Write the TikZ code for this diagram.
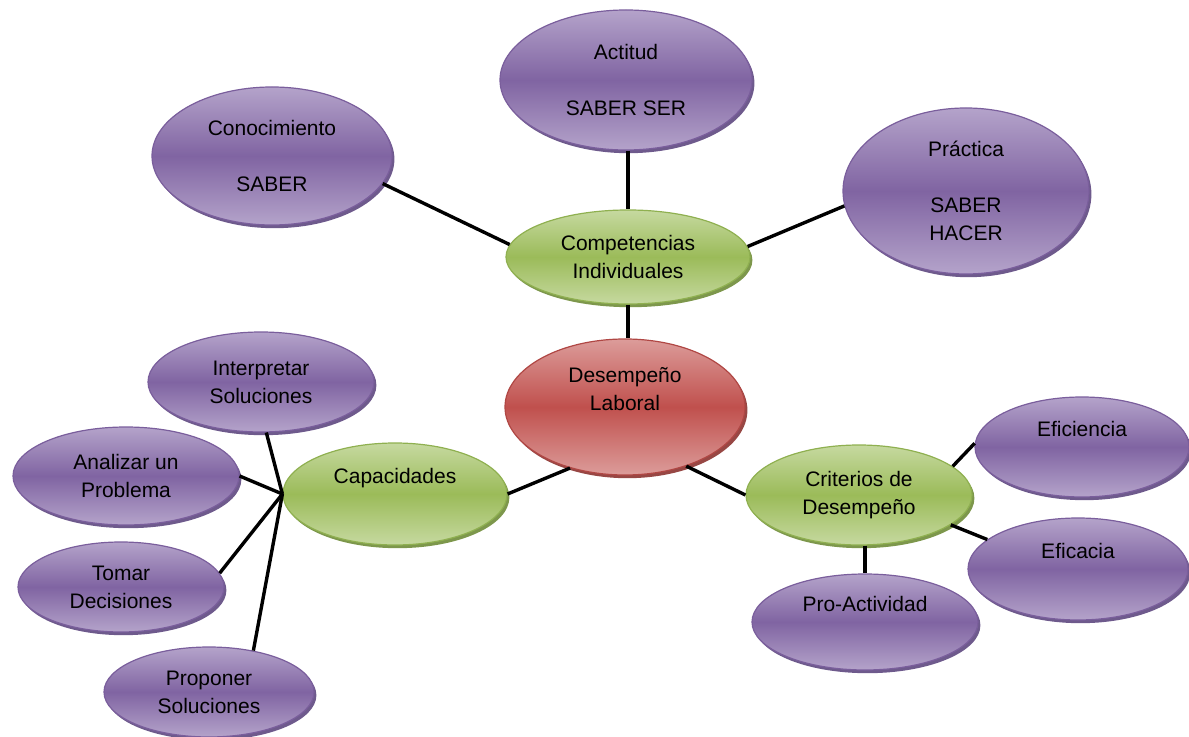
\documentclass[tikz,border=0pt]{standalone}
\usepackage{fontspec}
\setmainfont{Liberation Sans}
\usetikzlibrary{shadows}
\usetikzlibrary{shapes.geometric}

\definecolor{lilaLight}{HTML}{B4A3CA}
\definecolor{lilaMid}{HTML}{8064A2}
\definecolor{lilaEdge}{HTML}{7A5E9C}
\definecolor{lilaShadow}{HTML}{5E4880}
\definecolor{verdeLight}{HTML}{C6D9A0}
\definecolor{verdeMid}{HTML}{9BBB59}
\definecolor{verdeEdge}{HTML}{8FB050}
\definecolor{verdeShadow}{HTML}{6F8C38}
\definecolor{rojoLight}{HTML}{DC9C9A}
\definecolor{rojoMid}{HTML}{C0504D}
\definecolor{rojoEdge}{HTML}{B04744}
\definecolor{rojoShadow}{HTML}{8C3330}

\begin{document}
\begin{tikzpicture}[x=0.5pt,y=-0.5pt]
    \tikzstyle base node=[ellipse, inner sep=0pt, align=center, text=black,
        font=\fontsize{10.5}{14}\selectfont, line width=0.6pt]
    \tikzstyle purple node=[base node, draw=lilaEdge,
        top color=lilaLight, bottom color=lilaLight, middle color=lilaMid,
        drop shadow={shadow xshift=1.2pt, shadow yshift=-1.6pt, fill=lilaShadow, opacity=0.9}]
    \tikzstyle green node=[base node, draw=verdeEdge,
        top color=verdeLight, bottom color=verdeLight, middle color=verdeMid,
        drop shadow={shadow xshift=1.2pt, shadow yshift=-1.6pt, fill=verdeShadow, opacity=0.9}]
    \tikzstyle red node=[base node, draw=rojoEdge,
        top color=rojoLight, bottom color=rojoLight, middle color=rojoMid,
        drop shadow={shadow xshift=1.2pt, shadow yshift=-1.6pt, fill=rojoShadow, opacity=0.9}]
    \tikzstyle link lines=[color=black, line width=1.7pt]

    \useasboundingbox (0,0) rectangle (1189,737);

    % center
    \node[red node, minimum width=120pt, minimum height=68pt] (desemp) at (625,407) {Desempeño\\Laboral\\ \strut};

    % branches
    \node[green node, minimum width=122pt, minimum height=47pt] (compet) at (628,257) {Competencias\\Individuales};
    \node[green node, minimum width=112pt, minimum height=51pt] (capac) at (395,494) {Capacidades\\ \strut};
    \node[green node, minimum width=113pt, minimum height=50pt] (criter) at (859,495) {Criterios de\\Desempeño};

    % top leaves
    \node[purple node, minimum width=120pt, minimum height=69pt] (conoc) at (272,156) {Conocimiento\\[14pt]SABER};
    \node[purple node, minimum width=126pt, minimum height=70pt] (actitud) at (626,80) {Actitud\\[14pt]SABER SER};
    \node[purple node, minimum width=123pt, minimum height=83pt] (practica) at (966,191) {Práctica\\[14pt]SABER\\HACER};

    % left leaves
    \node[purple node, minimum width=113pt, minimum height=50pt] (interp) at (261,382) {Interpretar\\Soluciones};
    \node[purple node, minimum width=113pt, minimum height=49pt] (analiz) at (126,476) {Analizar un\\Problema};
    \node[purple node, minimum width=103pt, minimum height=45pt] (tomar) at (121,587) {Tomar\\Decisiones};
    \node[purple node, minimum width=105pt, minimum height=45pt] (propon) at (209,692) {Proponer\\Soluciones};

    % right leaves
    \node[purple node, minimum width=107pt, minimum height=50pt] (efici) at (1082,447) {Eficiencia\\ \strut};
    \node[purple node, minimum width=110pt, minimum height=51pt] (efica) at (1078,569) {Eficacia\\ \strut};
    \node[purple node, minimum width=113pt, minimum height=48pt] (proact) at (865,622) {Pro-Actividad\\ \strut};

    % links
    \draw[style=link lines] (conoc.-14) -- (compet.174);
    \draw[style=link lines] (compet.north |- actitud.south) -- (compet.north);
    \draw[style=link lines] (practica.-173) -- (compet.5);
    \draw[style=link lines] (compet.south) -- (compet.south |- desemp.north);
    \draw[style=link lines] (desemp.-132) -- (capac.east);
    \draw[style=link lines] (desemp.-44) -- (criter.west);
    \draw[style=link lines] (criter.17) -- (efici.178);
    \draw[style=link lines] (criter.-18) -- (efica.162);
    \draw[style=link lines] (proact.north |- criter.south) -- (proact.north);
    \foreach \leaf/\ang in {interp/-84, analiz/0, tomar/8, propon/43}
        \draw[style=link lines] (capac.west) -- (\leaf.\ang);
\end{tikzpicture}
\end{document}
